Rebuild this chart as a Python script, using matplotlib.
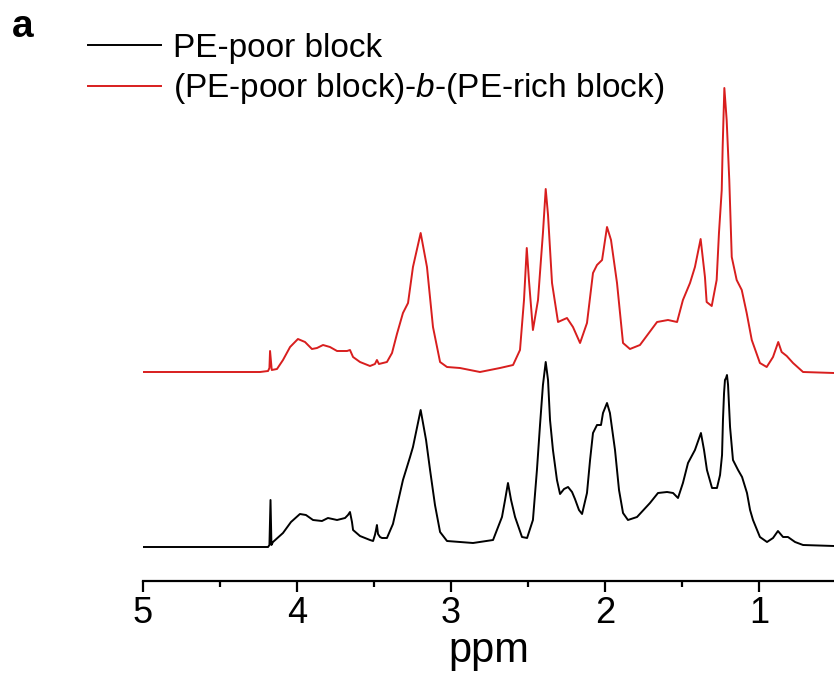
import matplotlib
matplotlib.use("Agg")
import matplotlib.pyplot as plt
import numpy as np

plt.rcParams['font.family'] = ['Liberation Sans', 'DejaVu Sans']
plt.rcParams['mathtext.fontset'] = 'custom'
plt.rcParams['mathtext.it'] = 'Liberation Sans:italic'
plt.rcParams['mathtext.rm'] = 'Liberation Sans'

# PE-poor block (black): ppm, intensity (a.u.)
poor_ppm = [5.000, 4.188, 4.179, 4.172, 4.166, 4.156, 4.091, 4.039, 3.981, 3.942,
            3.896, 3.838, 3.799, 3.740, 3.688, 3.669, 3.656, 3.643, 3.636, 3.591,
            3.526, 3.506, 3.494, 3.487, 3.481, 3.474, 3.461, 3.448, 3.416, 3.377,
            3.312, 3.266, 3.247, 3.197, 3.162, 3.136, 3.104, 3.071, 3.026, 2.857,
            2.727, 2.669, 2.649, 2.630, 2.610, 2.584, 2.539, 2.506, 2.468, 2.442,
            2.422, 2.403, 2.385, 2.370, 2.357, 2.338, 2.312, 2.292, 2.266, 2.240,
            2.214, 2.195, 2.169, 2.149, 2.117, 2.097, 2.078, 2.052, 2.026, 2.013,
            1.987, 1.968, 1.935, 1.909, 1.883, 1.851, 1.792, 1.708, 1.656, 1.597,
            1.558, 1.526, 1.494, 1.461, 1.416, 1.377, 1.357, 1.338, 1.305, 1.273,
            1.253, 1.240, 1.234, 1.227, 1.221, 1.214, 1.208, 1.201, 1.188, 1.169,
            1.136, 1.110, 1.078, 1.058, 1.039, 0.994, 0.948, 0.909, 0.877, 0.844,
            0.812, 0.766, 0.714, 0.513]
poor_int = [0, 0, 2, 47, 2, 5, 14, 25, 33, 32,
            27, 26, 29, 27, 29, 32, 35, 25, 17, 11,
            7, 6, 12, 17, 22, 13, 10, 9, 9, 23,
            67, 90, 100, 137, 107, 77, 42, 15, 6, 4,
            7, 30, 47, 64, 47, 30, 10, 9, 27, 77,
            122, 162, 185, 167, 127, 97, 67, 53, 58, 60,
            55, 48, 37, 33, 54, 87, 114, 122, 122, 134,
            144, 134, 97, 57, 34, 27, 30, 44, 54, 55,
            54, 49, 64, 84, 97, 114, 97, 77, 59, 59,
            72, 92, 127, 154, 167, 169, 172, 162, 120, 87,
            77, 70, 54, 37, 27, 10, 5, 9, 16, 10,
            10, 5, 2, 1]

# (PE-poor block)-b-(PE-rich block) (red)
diblock_ppm = [5.000, 4.240, 4.188, 4.179, 4.175, 4.164, 4.130, 4.091, 4.045, 3.994,
               3.948, 3.903, 3.870, 3.831, 3.786, 3.740, 3.675, 3.656, 3.636, 3.591,
               3.526, 3.494, 3.481, 3.468, 3.416, 3.383, 3.351, 3.312, 3.279, 3.247,
               3.197, 3.156, 3.117, 3.071, 3.026, 2.942, 2.812, 2.682, 2.597, 2.552,
               2.526, 2.508, 2.494, 2.468, 2.435, 2.416, 2.403, 2.385, 2.370, 2.344,
               2.305, 2.247, 2.208, 2.162, 2.117, 2.078, 2.052, 2.019, 1.987, 1.961,
               1.922, 1.883, 1.838, 1.773, 1.662, 1.591, 1.532, 1.494, 1.448, 1.416,
               1.379, 1.351, 1.340, 1.307, 1.275, 1.260, 1.242, 1.236, 1.225, 1.210,
               1.193, 1.177, 1.145, 1.112, 1.080, 1.047, 0.994, 0.950, 0.909, 0.875,
               0.853, 0.820, 0.779, 0.714, 0.513]
diblock_int = [0, 0, 1, 4, 21, 2, 3, 12, 25, 33,
               30, 23, 24, 27, 25, 21, 21, 22, 15, 10,
               6, 8, 12, 8, 10, 19, 38, 59, 69, 105,
               139, 105, 45, 10, 5, 4, 0, 4, 7, 22,
               72, 124, 92, 42, 72, 112, 139, 183, 157, 89,
               50, 54, 45, 29, 49, 99, 107, 112, 145, 132,
               89, 29, 23, 27, 50, 52, 50, 72, 89, 105,
               133, 95, 70, 66, 92, 139, 182, 225, 284, 252,
               192, 115, 92, 82, 59, 32, 9, 5, 15, 30,
               20, 16, 9, 0, -1]

offsets = [0, 175]

fig = plt.figure(figsize=(8.34, 6.97), dpi=100)
ax = fig.add_axes([143 / 834, 116 / 697, 691 / 834, 581 / 697])

l1, = ax.plot(poor_ppm, np.array(poor_int) + offsets[0], color='black', lw=1.4)
l2, = ax.plot(diblock_ppm, np.array(diblock_int) + offsets[1], color='#d81e1e', lw=1.4)

ax.set_xlim(5, 0.513)
ax.set_ylim(-34, 547)
for s in ['left', 'right', 'top']:
    ax.spines[s].set_visible(False)
ax.spines['bottom'].set_linewidth(1.6)
ax.set_yticks([])
ax.set_xticks([5, 4, 3, 2, 1])
ax.set_xticks([4.5, 3.5, 2.5, 1.5], minor=True)
ax.tick_params(axis='x', which='major', length=8, width=1.6, labelsize=26, pad=3)
ax.tick_params(axis='x', which='minor', length=4, width=1.6)
ax.set_xlabel('ppm', fontsize=30, labelpad=0)

fig.legend([l1, l2], ['PE-poor block', '(PE-poor block)-$b$-(PE-rich block)'],
           loc='upper left', bbox_to_anchor=(88 / 834, 1 - 33 / 697),
           frameon=False, fontsize=24, handlelength=2.2, handletextpad=0.35,
           labelspacing=0.22, borderpad=0, borderaxespad=0)
fig.text(12 / 834, 1 - 27 / 697, 'a', fontsize=28, fontweight='bold', va='center')

fig.savefig('out.png', dpi=100)
